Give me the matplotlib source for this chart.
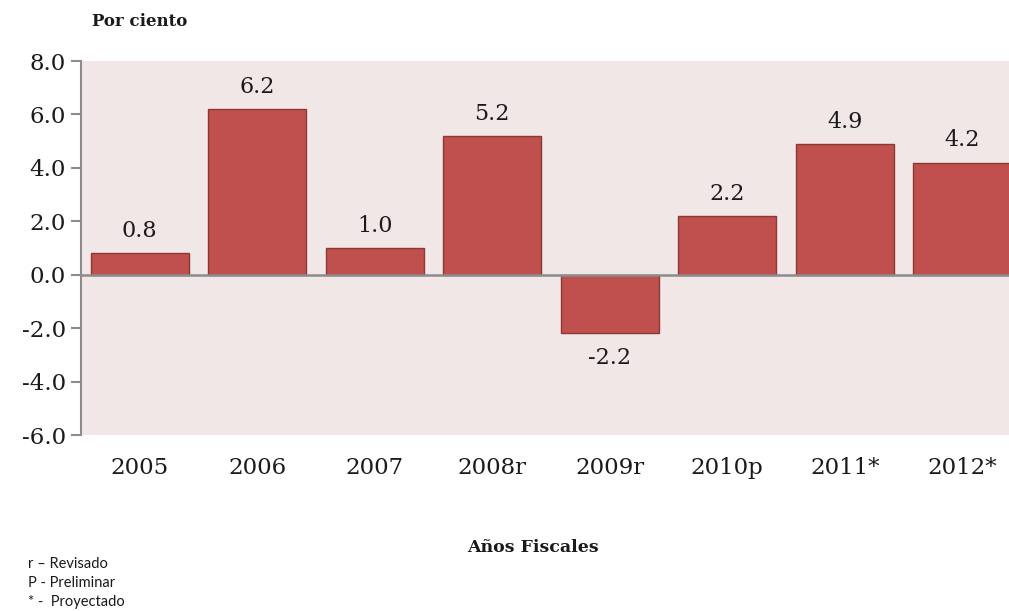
import matplotlib
matplotlib.use("Agg")
import matplotlib.pyplot as plt

categories = ["2005", "2006", "2007", "2008r", "2009r", "2010p", "2011*", "2012*"]
values = [0.8, 6.2, 1.0, 5.2, -2.2, 2.2, 4.9, 4.2]
yticks = [-6, -4, -2, 0, 2, 4, 6, 8]

W, H = 1009, 611
fig = plt.figure(figsize=(W / 100, H / 100), dpi=100)
ax = fig.add_axes([81 / W, 1 - 435 / H, 940 / W, 374 / H])
ax.set_facecolor("#F2E7E7")

serif = ["DejaVu Serif"]
x = list(range(len(categories)))
bars = ax.bar(x, values, width=0.83, color="#C0504D", edgecolor="#8C3836", linewidth=1.0, zorder=3)
ax.set_xlim(-0.5, len(categories) - 0.5)
ax.set_ylim(-6, 8)
ax.axhline(0, color="#8C8C8C", linewidth=1.8, zorder=4)

for xi, v in zip(x, values):
    if v >= 0:
        ax.annotate(f"{v:.1f}", (xi, v), xytext=(0, 8), textcoords="offset points",
                    ha="center", va="bottom", fontsize=16, family=serif, color="#1a1a1a")
    else:
        ax.annotate(f"{v:.1f}", (xi, v), xytext=(0, -10), textcoords="offset points",
                    ha="center", va="top", fontsize=16, family=serif, color="#1a1a1a")

ax.set_yticks(yticks)
ax.set_yticklabels([f"{t:.1f}" for t in yticks], fontsize=16.5, family=serif, color="#1a1a1a")
ax.set_xticks(x)
ax.set_xticklabels(categories, fontsize=16.5, family=serif, color="#1a1a1a")
ax.tick_params(axis="x", length=0, pad=16)
ax.tick_params(axis="y", length=7, width=1.5, color="#8C8C8C", pad=4)
for s in ["top", "right", "bottom"]:
    ax.spines[s].set_visible(False)
ax.spines["left"].set_color("#8C8C8C")
ax.spines["left"].set_linewidth(1.5)

fig.text(92 / W, 1 - 22 / H, "Por ciento", fontsize=12, fontweight="bold", family=serif,
         ha="left", va="center", color="#1a1a1a")
fig.text(533 / W, 1 - 548 / H, "Años Fiscales", fontsize=12.5, fontweight="bold", family=serif,
         ha="center", va="center", color="#1a1a1a")
for i, t in enumerate(["r – Revisado", "P - Preliminar", "* -  Proyectado"]):
    fig.text(28 / W, 1 - (564 + 19 * i) / H, t, fontsize=10.5, family="Lato",
             ha="left", va="center", color="#1a1a1a")

fig.savefig("out.png", dpi=100)
